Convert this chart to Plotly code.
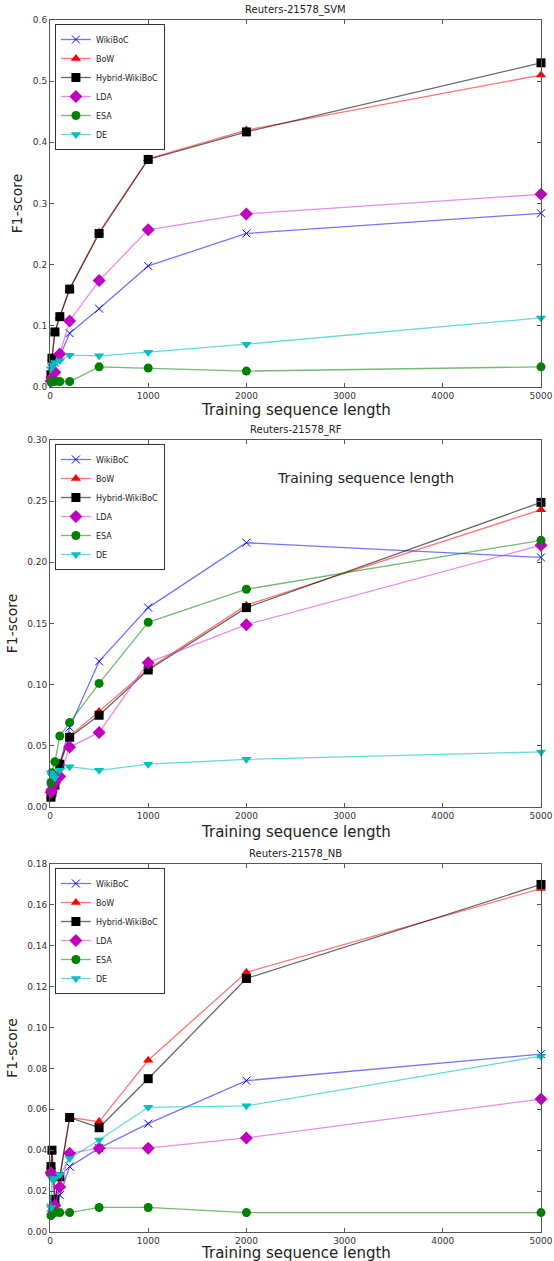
import plotly.graph_objects as go

x_vals = [10, 20, 50, 100, 200, 500, 1000, 2000, 5000]
methods = ["WikiBoC", "BoW", "Hybrid-WikiBoC", "LDA", "ESA", "DE"]

svm = {
    "WikiBoC":        [0.020, 0.030, 0.040, 0.050, 0.088, 0.128, 0.198, 0.251, 0.284],
    "BoW":            [0.020, 0.047, 0.090, 0.115, 0.160, 0.253, 0.373, 0.420, 0.510],
    "Hybrid-WikiBoC": [0.020, 0.047, 0.090, 0.115, 0.160, 0.251, 0.372, 0.417, 0.530],
    "LDA":            [0.010, 0.015, 0.024, 0.054, 0.108, 0.174, 0.257, 0.283, 0.315],
    "ESA":            [0.008, 0.009, 0.009, 0.009, 0.009, 0.033, 0.031, 0.026, 0.033],
    "DE":             [0.030, 0.035, 0.040, 0.043, 0.052, 0.051, 0.057, 0.070, 0.113],
}
rf = {
    "WikiBoC":        [0.015, 0.020, 0.025, 0.035, 0.065, 0.119, 0.163, 0.216, 0.204],
    "BoW":            [0.009, 0.013, 0.020, 0.036, 0.058, 0.078, 0.113, 0.165, 0.243],
    "Hybrid-WikiBoC": [0.008, 0.012, 0.018, 0.035, 0.057, 0.075, 0.112, 0.163, 0.249],
    "LDA":            [0.012, 0.014, 0.020, 0.025, 0.049, 0.061, 0.118, 0.149, 0.214],
    "ESA":            [0.020, 0.028, 0.037, 0.058, 0.069, 0.101, 0.151, 0.178, 0.218],
    "DE":             [0.028, 0.026, 0.024, 0.030, 0.033, 0.030, 0.035, 0.039, 0.045],
}
nb = {
    "WikiBoC":        [0.012, 0.010, 0.012, 0.018, 0.032, 0.041, 0.053, 0.074, 0.087],
    "BoW":            [0.032, 0.040, 0.015, 0.027, 0.056, 0.054, 0.084, 0.127, 0.168],
    "Hybrid-WikiBoC": [0.032, 0.040, 0.016, 0.027, 0.056, 0.051, 0.075, 0.124, 0.170],
    "LDA":            [0.029, 0.028, 0.013, 0.022, 0.0385, 0.041, 0.041, 0.046, 0.065],
    "ESA":            [0.008, 0.009, 0.0095, 0.0095, 0.0095, 0.012, 0.012, 0.0095, 0.0095],
    "DE":             [0.012, 0.026, 0.026, 0.028, 0.036, 0.045, 0.061, 0.0617, 0.086],
}

titles = ["Reuters-21578_SVM", "Reuters-21578_RF", "Reuters-21578_NB"]
datasets = [svm, rf, nb]
y_ranges = [[0, 0.6], [0, 0.30], [0, 0.18]]
y_dticks = [0.1, 0.05, 0.02]
y_formats = [".1f", ".2f", ".2f"]

styles = {
    "WikiBoC":        dict(color="#0000ff", line="rgba(0,0,255,0.55)", symbol="x-thin", size=8),
    "BoW":            dict(color="#ff0000", line="rgba(255,0,0,0.55)", symbol="triangle-up", size=9),
    "Hybrid-WikiBoC": dict(color="#000000", line="rgba(0,0,0,0.6)", symbol="square", size=9),
    "LDA":            dict(color="#bf00bf", line="rgba(220,60,220,0.6)", symbol="diamond", size=10),
    "ESA":            dict(color="#008000", line="rgba(0,128,0,0.55)", symbol="circle", size=9),
    "DE":             dict(color="#00bfbf", line="rgba(0,191,191,0.6)", symbol="triangle-down", size=9),
}

W, H = 554, 1261
ml, mr, mt, mb = 50, 13, 20, 29
ph = H - mt - mb
# plot pixel boxes (top, bottom)
boxes = [(20, 387), (440, 807), (864, 1232)]
xtitle_offsets = [23, 25, 21]

def py(p):
    return (H - mb - p) / ph

fig = go.Figure()
layout = dict(width=W, height=H, margin=dict(l=ml, r=mr, t=mt, b=mb, autoexpand=False),
              paper_bgcolor="white", plot_bgcolor="white",
              font=dict(family="DejaVu Sans", color="#333333"), annotations=[])

for i, (data, title) in enumerate(zip(datasets, titles)):
    n = i + 1
    xa = "x" if n == 1 else f"x{n}"
    ya = "y" if n == 1 else f"y{n}"
    lg = "legend" if n == 1 else f"legend{n}"
    for m in methods:
        s = styles[m]
        if s["symbol"] == "x-thin":
            marker = dict(symbol="x-thin", size=s["size"], color=s["color"],
                          line=dict(color=s["color"], width=1))
        else:
            marker = dict(symbol=s["symbol"], size=s["size"], color=s["color"],
                          line=dict(width=0))
        fig.add_trace(go.Scatter(x=x_vals, y=data[m], name=m, mode="lines+markers",
                                 line=dict(color=s["line"], width=1.3),
                                 marker=marker, xaxis=xa, yaxis=ya, legend=lg,
                                 cliponaxis=False))
    top, bot = boxes[i]
    axis_common = dict(showline=True, linecolor="#555555", linewidth=1, mirror="ticks",
                       ticks="inside", ticklen=4, tickcolor="#555555", showgrid=False,
                       zeroline=False, tickfont=dict(size=9, color="#333333"),
                       automargin=False)
    layout["xaxis" if n == 1 else f"xaxis{n}"] = dict(
        range=[0, 5000], dtick=1000, anchor=ya, domain=[0, 1], **axis_common)
    layout["yaxis" if n == 1 else f"yaxis{n}"] = dict(
        range=y_ranges[i], dtick=y_dticks[i], tickformat=y_formats[i], anchor=xa,
        domain=[py(bot), py(top)],
        title=dict(text="F1-score", font=dict(size=14, color="#222222"), standoff=6),
        **axis_common)
    layout[lg] = dict(x=0.01, y=py(top + 4), xanchor="left", yanchor="top",
                      xref="paper", yref="paper",
                      bordercolor="#333333", borderwidth=1, bgcolor="white",
                      font=dict(size=8, color="#222222"), tracegroupgap=0,
                      itemwidth=30)
    layout["annotations"].append(dict(text=title, x=0.5, y=py(top - 2), xref="paper",
                                      yref="paper", xanchor="center", yanchor="bottom",
                                      showarrow=False, font=dict(size=10, color="#222222")))
    layout["annotations"].append(dict(text="Training sequence length", x=0.5,
                                      y=py(bot + xtitle_offsets[i]), xref="paper", yref="paper",
                                      xanchor="center", yanchor="middle", showarrow=False,
                                      font=dict(size=15, color="#222222")))

layout["annotations"].append(dict(text="Training sequence length", x=(365 - ml) / (W - ml - mr),
                                  y=py(478), xref="paper", yref="paper", xanchor="center",
                                  yanchor="middle", showarrow=False,
                                  font=dict(size=14, color="#222222")))

fig.update_layout(**layout)
fig.write_html("out.html", config={"displayModeBar": False},
               post_script="document.body.style.margin='0';document.body.style.overflow='hidden';")
